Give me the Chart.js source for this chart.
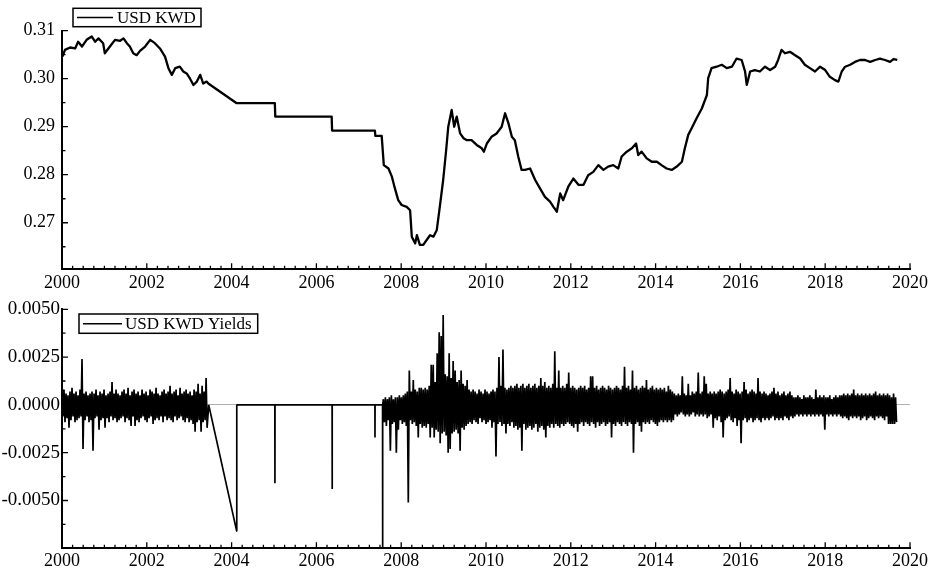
<!DOCTYPE html>
<html>
<head>
<meta charset="utf-8">
<script src="https://cdn.jsdelivr.net/npm/chart.js@4/dist/chart.umd.min.js"></script>
<style>
  html, body { margin: 0; padding: 0; background: #fff; }
  #wrap { position: relative; width: 935px; height: 570px; }
  canvas { position: absolute; left: 0; }
  #priceChart { top: 0; }
  #yieldChart { top: 290px; }
</style>
</head>
<body>
<div id="wrap">
  <canvas id="priceChart" width="935" height="290" style="width:935px;height:290px"></canvas>
  <canvas id="yieldChart" width="935" height="280" style="width:935px;height:280px"></canvas>
</div>
<script>
// ---- USD/KWD exchange rate (decimal year, rate) ----
const priceDates = [
  2000.01,2000.07,2000.19,2000.31,2000.38,2000.47,2000.58,2000.70,2000.78,2000.86,
  2000.97,2001.01,2001.13,2001.25,2001.37,2001.45,2001.53,2001.60,2001.68,2001.76,
  2001.84,2001.96,2002.08,2002.19,2002.31,2002.43,2002.51,2002.59,2002.67,2002.78,
  2002.86,2002.94,2003.02,2003.10,2003.18,2003.26,2003.33,2003.41,2003.45,2004.12,
  2005.02,2005.03,2006.36,2006.37,2007.38,2007.39,2007.54,2007.59,2007.70,2007.78,
  2007.85,2007.93,2008.01,2008.13,2008.21,2008.25,2008.33,2008.37,2008.44,2008.52,
  2008.60,2008.68,2008.76,2008.84,2008.92,2008.99,2009.06,2009.11,2009.19,2009.25,
  2009.31,2009.39,2009.47,2009.55,2009.66,2009.78,2009.90,2009.95,2010.02,2010.13,
  2010.25,2010.37,2010.45,2010.53,2010.61,2010.68,2010.76,2010.84,2010.92,2011.04,
  2011.16,2011.27,2011.39,2011.51,2011.59,2011.67,2011.75,2011.82,2011.94,2012.06,
  2012.18,2012.30,2012.41,2012.53,2012.65,2012.77,2012.88,2013.00,2013.12,2013.20,
  2013.32,2013.44,2013.54,2013.59,2013.67,2013.79,2013.91,2014.03,2014.14,2014.26,
  2014.38,2014.50,2014.62,2014.69,2014.77,2014.85,2014.97,2015.09,2015.21,2015.24,
  2015.32,2015.44,2015.56,2015.68,2015.80,2015.91,2016.03,2016.11,2016.15,2016.23,
  2016.34,2016.46,2016.58,2016.70,2016.82,2016.89,2016.97,2017.05,2017.17,2017.29,
  2017.41,2017.52,2017.64,2017.76,2017.88,2018.00,2018.11,2018.23,2018.31,2018.39,
  2018.47,2018.59,2018.70,2018.82,2018.94,2019.06,2019.18,2019.29,2019.41,2019.53,
  2019.61,2019.70
];
const priceRates = [
  0.3046,0.3060,0.3065,0.3063,0.3077,0.3067,0.3081,0.3088,0.3077,0.3084,
  0.3074,0.3053,0.3067,0.3081,0.3079,0.3084,0.3074,0.3067,0.3053,0.3049,
  0.3058,0.3067,0.3081,0.3074,0.3063,0.3046,0.3022,0.3008,0.3022,0.3025,
  0.3015,0.3011,0.3000,0.2987,0.2994,0.3008,0.2990,0.2994,0.2990,0.2949,
  0.2949,0.2921,0.2921,0.2892,0.2892,0.2881,0.2881,0.2820,0.2813,0.2796,
  0.2772,0.2747,0.2737,0.2733,0.2726,0.2671,0.2657,0.2674,0.2654,0.2654,
  0.2664,0.2674,0.2671,0.2685,0.2740,0.2789,0.2851,0.2900,0.2935,0.2900,
  0.2921,0.2886,0.2876,0.2872,0.2872,0.2862,0.2855,0.2848,0.2865,0.2879,
  0.2886,0.2900,0.2928,0.2907,0.2879,0.2872,0.2838,0.2810,0.2810,0.2813,
  0.2789,0.2772,0.2754,0.2744,0.2733,0.2723,0.2761,0.2747,0.2775,0.2792,
  0.2779,0.2779,0.2799,0.2806,0.2820,0.2810,0.2817,0.2820,0.2813,0.2838,
  0.2848,0.2855,0.2865,0.2841,0.2848,0.2834,0.2827,0.2827,0.2820,0.2813,
  0.2810,0.2817,0.2827,0.2855,0.2883,0.2897,0.2918,0.2938,0.2966,0.3001,
  0.3022,0.3025,0.3029,0.3022,0.3025,0.3042,0.3039,0.3015,0.2987,0.3015,
  0.3018,0.3015,0.3025,0.3018,0.3025,0.3039,0.3060,0.3053,0.3056,0.3049,
  0.3042,0.3029,0.3022,0.3015,0.3025,0.3018,0.3004,0.2997,0.2994,0.3015,
  0.3025,0.3029,0.3035,0.3039,0.3039,0.3035,0.3039,0.3042,0.3039,0.3035,
  0.3041,0.3039
];

// ---- USD/KWD yields, in basis points (1 bp = 0.0001) ----
const BP = 0.0001;
// 2000 – mid 2003, evenly spaced observations
const yieldsEarlyStart = 2000.0;
const yieldsEarlyStep = 0.0236;
const yieldsEarlyBp = [
  13,-6,8,-9,6,-7,5,-12,7,-8,9,-6,6,-9,7,-8,5,-7,8,-6,
  24,-23,6,-8,7,-6,5,-9,6,-8,7,-24,6,-7,8,-6,5,-13,7,-8,
  6,-7,8,-12,5,-7,6,-9,7,-6,12,-8,6,-7,8,-9,6,-8,5,-7,
  7,-6,8,-9,6,-7,9,-8,5,-11,7,-6,8,-11,6,-8,7,-9,5,-7,
  8,-6,6,-8,7,-9,5,-7,8,-6,7,-10,6,-8,9,-7,6,-8,5,-6,
  7,-9,8,-6,6,-8,7,-7,10,-8,6,-9,7,-6,8,-8,5,-7,9,-6,
  6,-8,7,-9,8,-7,6,-9,7,-8,5,-10,8,-14,7,-9,11,-8,6,-14,
  10,-9,7,-8,14,-12
];
// sparse stretch mid 2003 – mid 2007 (peg adjustments only)
const yieldsGapDates = [2003.46,2004.12,2004.122,2005.02,2005.022,2005.024,2006.37,2006.372,2006.374,
                        2007.38,2007.382,2007.384,2007.56,2007.562,2007.564];
const yieldsGapBp    = [0,-66,0,0,-41,0,0,-44,0,0,-17,0,0,-75,0];
// mid 2007 – 2019, evenly spaced observations
const yieldsLateStart = 2007.58;
const yieldsLateStep = 0.0235;
const yieldsLateBp = [
  3,-9,4,-11,3,-8,4,-24,5,-10,3,-9,4,-25,4,-13,5,-8,4,-10,
  5,-9,6,-11,7,-51,18,-8,7,-10,13,-9,8,-11,7,-17,9,-10,9,-12,
  8,-11,9,-12,8,-10,10,-17,21,-12,21,-17,12,-13,27,-14,38,-20,36,-15,
  47,-14,16,-16,15,-25,27,-23,14,-15,23,-14,18,-13,12,-15,13,-24,18,-12,
  11,-13,10,-11,13,-10,8,-9,7,-10,8,-8,7,-9,6,-10,8,-7,7,-9,
  6,-8,8,-10,7,-9,6,-8,7,-12,8,-9,7,-27,9,-10,25,-9,10,-11,
  29,-10,9,-15,8,-10,9,-11,10,-9,9,-12,10,-11,11,-13,9,-12,10,-24,
  11,-10,9,-13,10,-12,11,-11,9,-13,10,-12,11,-10,9,-14,10,-12,14,-11,
  10,-13,12,-17,9,-11,10,-12,9,-10,11,-12,28,-10,9,-11,18,-12,9,-10,
  10,-11,9,-10,11,-9,17,-10,9,-11,10,-12,9,-10,8,-14,9,-10,10,-9,
  9,-11,10,-9,8,-10,9,-11,15,-9,15,-10,9,-12,10,-9,8,-11,9,-10,
  10,-9,9,-11,8,-10,10,-9,9,-17,8,-10,9,-11,10,-9,9,-10,8,-11,
  10,-9,20,-10,9,-11,10,-9,8,-10,18,-25,9,-10,10,-9,8,-11,9,-14,
  10,-9,9,-10,13,-9,8,-10,9,-8,10,-9,8,-10,9,-11,8,-9,9,-8,
  8,-9,9,-8,7,-9,10,-8,8,-9,7,-8,6,-5,5,-6,6,-5,5,-4,
  15,-5,6,-6,5,-5,11,-6,5,-5,7,-4,6,-6,7,-5,17,-6,6,-5,
  7,-6,15,-5,11,-7,6,-6,7,-5,6,-12,7,-7,6,-8,7,-6,8,-9,
  7,-17,6,-8,7,-7,8,-6,14,-8,7,-9,6,-7,8,-11,7,-8,6,-20,
  7,-8,12,-7,8,-9,6,-8,7,-7,8,-9,7,-8,6,-7,14,-8,7,-9,
  6,-7,7,-8,6,-7,5,-8,6,-7,7,-6,9,-8,6,-7,7,-8,5,-7,
  6,-8,7,-6,5,-7,6,-8,7,-6,5,-7,4,-6,4,-5,5,-6,4,-5,
  3,-6,5,-5,4,-6,4,-5,5,-6,4,-5,3,-6,8,-5,4,-6,5,-5,
  4,-6,5,-13,4,-5,4,-6,5,-5,3,-6,4,-5,5,-6,4,-5,5,-6,
  5,-7,6,-6,5,-7,6,-8,5,-6,6,-7,8,-6,5,-7,6,-6,5,-8,
  6,-7,5,-6,6,-8,5,-7,6,-6,5,-7,6,-8,7,-6,5,-7,6,-6,
  5,-7,6,-8,5,-6,6,-10,5,-10,4,-10,6,-10,4,-9
];

// ---- axis ticks ----
const yearTicks = [2000,2002,2004,2006,2008,2010,2012,2014,2016,2018,2020];
const priceTicks = [0.27,0.28,0.29,0.30,0.31];
const priceMinorTicks = [0.265,0.275,0.285,0.295,0.305];
const yieldTicks = [-0.005,-0.0025,0,0.0025,0.005];
const yieldMinorTicks = [-0.00625,-0.00375,-0.00125,0.00125,0.00375];

const SERIF = '"Liberation Serif", "Times New Roman", Times, serif';

// inward-pointing tick marks on both axes
const innerTicks = {
  id: 'innerTicks',
  afterDraw(chart, args, o) {
    const { ctx, chartArea: a } = chart;
    const xs = chart.scales.x, ys = chart.scales.y;
    ctx.save();
    ctx.strokeStyle = '#000';
    ctx.lineWidth = 1.3;
    ctx.beginPath();
    const n = Math.round((o.xTo - o.xFrom) / o.xMinor);
    for (let k = 0; k <= n; k++) {
      const px = xs.getPixelForValue(o.xFrom + k * o.xMinor);
      const len = (k % o.xMajorEvery === 0) ? 6 : 3.5;
      ctx.moveTo(px, a.bottom);
      ctx.lineTo(px, a.bottom - len);
    }
    o.yMajor.forEach(v => {
      const py = ys.getPixelForValue(v);
      ctx.moveTo(a.left, py); ctx.lineTo(a.left + 6, py);
    });
    o.yMinor.forEach(v => {
      const py = ys.getPixelForValue(v);
      ctx.moveTo(a.left, py); ctx.lineTo(a.left + 3.5, py);
    });
    ctx.stroke();
    ctx.restore();
  }
};

// boxed legend entry drawn from the dataset label
const boxLegend = {
  id: 'boxLegend',
  afterDraw(chart, args, o) {
    const ctx = chart.ctx;
    const label = chart.data.datasets[0].label;
    const cy = o.y + o.h / 2;
    ctx.save();
    ctx.fillStyle = '#fff';
    ctx.fillRect(o.x, o.y, o.w, o.h);
    ctx.strokeStyle = '#000';
    ctx.lineWidth = 1.5;
    ctx.strokeRect(o.x, o.y, o.w, o.h);
    ctx.beginPath();
    ctx.moveTo(o.lineX1, cy);
    ctx.lineTo(o.lineX2, cy);
    ctx.stroke();
    ctx.fillStyle = '#000';
    ctx.font = '17px ' + SERIF;
    ctx.textBaseline = 'middle';
    ctx.textAlign = 'left';
    ctx.fillText(label, o.textX, cy + 1);
    ctx.restore();
  }
};

function xAxis(labelPad, axisHeight) {
  return {
    type: 'linear', min: 2000, max: 2020,
    afterBuildTicks: s => { s.ticks = yearTicks.map(v => ({ value: v })); },
    afterFit: s => { s.height = axisHeight; },
    ticks: {
      callback: v => String(v), autoSkip: false, maxRotation: 0,
      font: { family: SERIF, size: 18 }, color: '#000', padding: labelPad
    },
    grid: { display: false, drawTicks: false },
    border: { display: true, color: '#000', width: 2 }
  };
}

const priceData = priceDates.map((d, i) => ({ x: d, y: priceRates[i] }));

const yieldData = [
  ...yieldsEarlyBp.map((v, i) => ({ x: yieldsEarlyStart + i * yieldsEarlyStep, y: v * BP })),
  ...yieldsGapDates.map((d, i) => ({ x: d, y: yieldsGapBp[i] * BP })),
  ...yieldsLateBp.map((v, i) => ({ x: yieldsLateStart + i * yieldsLateStep, y: v * BP }))
];

new Chart(document.getElementById('priceChart'), {
  type: 'line',
  data: {
    datasets: [{
      label: 'USD KWD',
      data: priceData,
      borderColor: '#000', borderWidth: 2.3, pointRadius: 0, tension: 0,
      borderJoinStyle: 'round', fill: false
    }]
  },
  options: {
    responsive: false, animation: false, devicePixelRatio: 1,
    parsing: false,
    layout: { padding: { top: 30.7, right: 25, bottom: 0, left: 0 } },
    scales: {
      x: xAxis(3, 20.7),
      y: {
        type: 'linear', min: 0.2603, max: 0.31,
        afterBuildTicks: s => { s.ticks = priceTicks.map(v => ({ value: v })); },
        afterFit: s => { s.width = 62; },
        ticks: { callback: v => v.toFixed(2), font: { family: SERIF, size: 18 }, color: '#000', padding: 7 },
        grid: { display: false, drawTicks: false },
        border: { display: true, color: '#000', width: 2 }
      }
    },
    plugins: {
      legend: { display: false },
      tooltip: { enabled: false },
      innerTicks: { xFrom: 2000, xTo: 2020, xMinor: 0.25, xMajorEvery: 8,
                    yMajor: priceTicks, yMinor: priceMinorTicks },
      boxLegend: { x: 73, y: 8.3, w: 128, h: 18.4, lineX1: 77, lineX2: 113, textX: 117 }
    }
  },
  plugins: [innerTicks, boxLegend]
});

new Chart(document.getElementById('yieldChart'), {
  type: 'line',
  data: {
    datasets: [{
      label: 'USD KWD Yields',
      data: yieldData,
      borderColor: '#000', borderWidth: 1.7, pointRadius: 0, tension: 0,
      borderJoinStyle: 'bevel', fill: false
    }]
  },
  options: {
    responsive: false, animation: false, devicePixelRatio: 1,
    parsing: false,
    layout: { padding: { top: 19.3, right: 25, bottom: 0, left: 0 } },
    scales: {
      x: xAxis(2, 21.7),
      y: {
        type: 'linear', min: -0.0075, max: 0.005,
        afterBuildTicks: s => { s.ticks = yieldTicks.map(v => ({ value: v })); },
        afterFit: s => { s.width = 62; },
        ticks: { callback: v => v.toFixed(4), font: { family: SERIF, size: 19 }, color: '#000', padding: 2 },
        grid: {
          display: true, drawOnChartArea: true, drawTicks: false, lineWidth: 1,
          color: c => (c.tick && c.tick.value === 0) ? '#b0b0b0' : 'rgba(0,0,0,0)'
        },
        border: { display: true, color: '#000', width: 2 }
      }
    },
    plugins: {
      legend: { display: false },
      tooltip: { enabled: false },
      innerTicks: { xFrom: 2000, xTo: 2020, xMinor: 0.25, xMajorEvery: 8,
                    yMajor: yieldTicks, yMinor: yieldMinorTicks },
      boxLegend: { x: 79, y: 24, w: 178.7, h: 19.3, lineX1: 83, lineX2: 122, textX: 125 }
    }
  },
  plugins: [innerTicks, boxLegend]
});
</script>
</body>
</html>
